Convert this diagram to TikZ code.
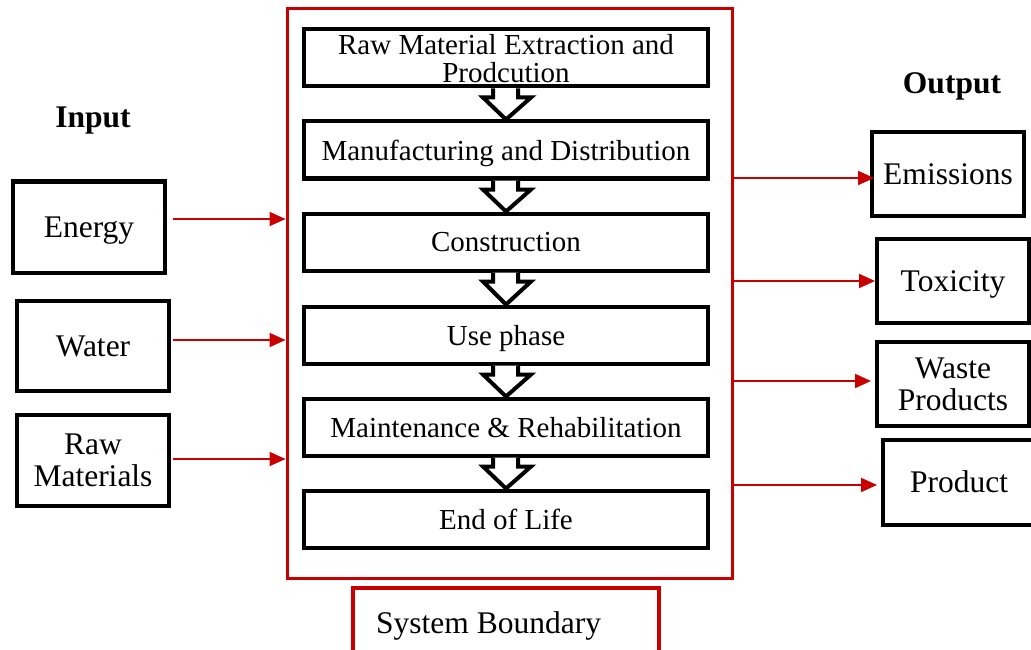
\documentclass[tikz,border=0pt]{standalone}
\usepackage{fontspec}
\setmainfont{Liberation Serif}
\usetikzlibrary{arrows.meta}
\definecolor{bred}{RGB}{200,0,0}
\tikzset{
  stagebox/.style={draw=black, line width=4pt, fill=white, minimum width=404pt, minimum height=57pt, inner sep=0pt, align=center, text depth=0pt, font=\fontsize{29}{28}\selectfont},
  iobox/.style={draw=black, line width=4pt, fill=white, minimum width=150pt, minimum height=89pt, inner sep=0pt, align=center, text depth=0pt, font=\fontsize{31.5}{32}\selectfont},
  redarrow/.style={draw=bred, line width=2pt, -{Triangle[length=16pt,width=14pt]}},
  chev/.style={draw=black, line width=4pt, fill=white, line join=miter},
  title/.style={font=\fontsize{31.5}{32}\selectfont\bfseries, anchor=base, inner sep=0pt}
}
\begin{document}
\begin{tikzpicture}[x=1pt,y=-1pt]
\clip (0,0) rectangle (1031,650);
\fill[white] (0,0) rectangle (1031,650);
% system boundary
\node[draw=bred, line width=3pt, minimum width=445pt, minimum height=569pt, inner sep=0pt] (sb) at (509.5,293.5) {};
% stages
\node[stagebox] (s1) at (506,58) {Raw Material Extraction and\\Prodcution};
\node[stagebox] (s2) at (506,150) {Manufacturing and Distribution};
\node[stagebox] (s3) at (506,242) {Construction};
\node[stagebox] (s4) at (506,335) {Use phase};
\node[stagebox] (s5) at (506,427) {Maintenance \& Rehabilitation};
\node[stagebox] (s6) at (506,519) {End of Life};
% chevrons
\foreach \a/\b in {s1/s2,s2/s3,s3/s4,s4/s5,s5/s6}{
  \draw[chev] ([xshift=-13pt]\a.south) -- ++(0,9) -- ++(-10,0) -- (\b.north) -- ([xshift=25pt,yshift=-9pt]\a.south) -- ++(-13,0) -- ++(0,-9);
}
% titles
\node[title] (in) at (93,128) {Input};
\node[title] (out) at (952,94) {Output};
% inputs
\node[iobox, minimum width=152pt, minimum height=91pt] (energy) at (89,227) {Energy};
\node[iobox, minimum width=152pt, minimum height=90pt] (water) at (93,346) {Water};
\node[iobox, minimum width=152pt, minimum height=91pt] (raw) at (93,460) {Raw\\Materials};
% outputs
\node[iobox, minimum width=152pt, minimum height=84pt] (emis) at (948,174) {Emissions};
\node[iobox, minimum width=152pt, minimum height=84pt] (tox) at (953,281) {Toxicity};
\node[iobox, minimum width=152pt, minimum height=84pt] (waste) at (953,384) {Waste\\Products};
\node[iobox, minimum width=152pt, minimum height=85pt] (prod) at (959,482) {Product};
% input arrows
\draw[redarrow] (energy.east |- 0,219) ++(6,0) coordinate (e1) -- (sb.west |- e1) ;
\draw[redarrow] (water.east |- 0,340) ++(2,0) coordinate (w1) -- (sb.west |- w1);
\draw[redarrow] (raw.east |- 0,459) ++(2,0) coordinate (r1) -- (sb.west |- r1);
% output arrows
\draw[redarrow] (sb.east |- 0,178) -- ([xshift=4pt]emis.west |- 0,178);
\draw[redarrow] (sb.east |- 0,281) -- (tox.west |- 0,281);
\draw[redarrow] (sb.east |- 0,381) -- ([xshift=-4pt]waste.west |- 0,381);
\draw[redarrow] (sb.east |- 0,485) -- ([xshift=-4pt]prod.west |- 0,485);
% system boundary label
\node[draw=bred, line width=4pt, minimum width=306pt, minimum height=70pt, inner sep=0pt] (sbl) at (506,623) {};
\node[anchor=base west, font=\fontsize{31.5}{32}\selectfont, inner sep=0pt] (sbt) at (376,633) {System Boundary};
\end{tikzpicture}
\end{document}
